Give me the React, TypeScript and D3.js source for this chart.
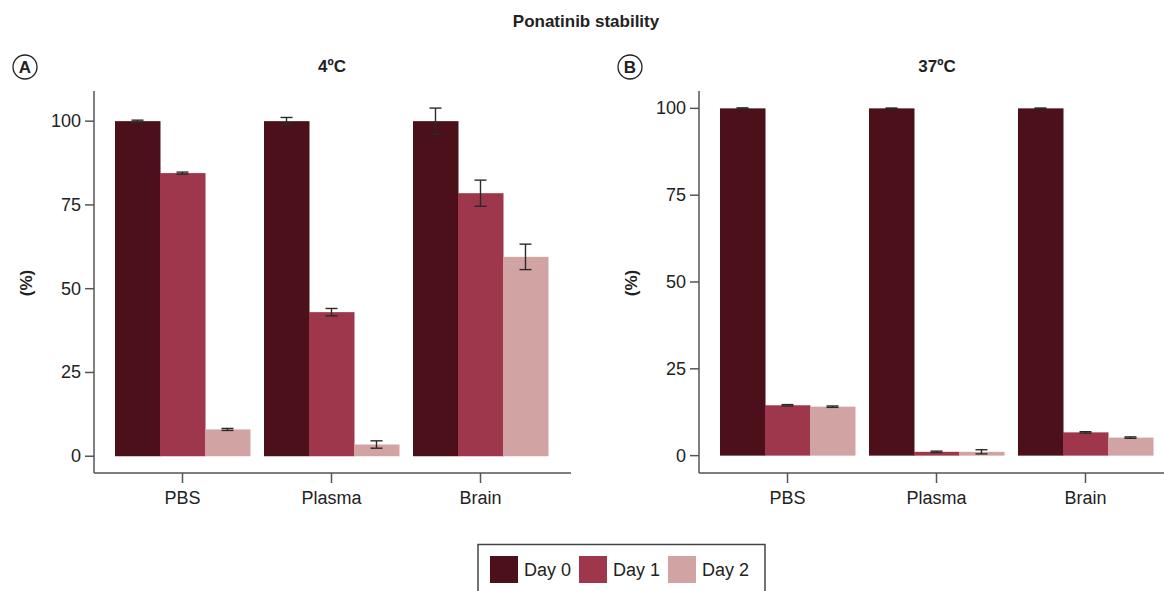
import React from "react";
import * as d3 from "d3";

const categories = ["PBS", "Plasma", "Brain"];
const days = ["Day 0", "Day 1", "Day 2"];
const colors = ["#4b1019", "#9e364c", "#d1a3a3"];

// Panel A (4ºC): values per category, per day
const valuesA = [
  [100, 84.5, 8],
  [100, 43, 3.5],
  [100, 78.5, 59.5],
];
const errorsA = [
  [0.3, 0.3, 0.3],
  [1.1, 1.1, 1.1],
  [3.9, 3.9, 3.8],
];
// Panel B (37ºC)
const valuesB = [
  [100, 14.5, 14.1],
  [100, 1.1, 1.1],
  [100, 6.7, 5.2],
];
const errorsB = [
  [0.15, 0.2, 0.2],
  [0.1, 0.2, 0.6],
  [0.1, 0.2, 0.2],
];
const yTicks = [0, 25, 50, 75, 100];

const FONT = "'Liberation Sans', Arial, Helvetica, sans-serif";
const AXIS = "#555";
const TEXT = "#222";

type PanelProps = {
  x0: number;
  x1: number;
  yMax: number;
  values: number[][];
  errors: number[][];
  title: string;
  letter: string;
  letterX: number;
  titleX: number;
  labelX: number;
};

function Panel({ x0, x1, yMax, values, errors, title, letter, letterX, titleX, labelX }: PanelProps) {
  const top = 91;
  const bottom = 473;
  const y = d3.scaleLinear().domain([-5, yMax]).range([bottom, top]);
  const xb = d3
    .scaleBand<string>()
    .domain(categories)
    .range([x0, x0 + 475])
    .paddingInner(0.094)
    .paddingOuter(0.141);
  const xs = d3.scaleBand<string>().domain(days).range([0, xb.bandwidth()]);
  return (
    <g>
      {/* letter circle */}
      <circle cx={letterX} cy={67} r={12} fill="none" stroke="#222" strokeWidth={1.3} />
      <text x={letterX} y={67} textAnchor="middle" dominantBaseline="central" fontFamily={FONT} fontWeight="bold" fontSize={17} fill={TEXT}>
        {letter}
      </text>
      <text x={titleX} y={72} textAnchor="middle" fontFamily={FONT} fontWeight="bold" fontSize={17} fill={TEXT}>
        {title}
      </text>
      {/* y label */}
      <text
        transform={`translate(${labelX},${283}) rotate(-90)`}
        textAnchor="middle"
        dominantBaseline="central"
        fontFamily={FONT}
        fontWeight="bold"
        fontSize={17}
        fill={TEXT}
      >
        (%)
      </text>
      {/* bars */}
      {categories.map((c, ci) =>
        days.map((d, di) => {
          const v = values[ci][di];
          const bx = (xb(c) as number) + (xs(d) as number);
          return (
            <rect
              key={c + d}
              x={bx}
              y={y(v)}
              width={xs.bandwidth() + 0.5}
              height={y(0) - y(v)}
              fill={colors[di]}
            />
          );
        })
      )}
      {/* error bars */}
      {categories.map((c, ci) =>
        days.map((d, di) => {
          const v = values[ci][di];
          const e = errors[ci][di];
          const cx = (xb(c) as number) + (xs(d) as number) + xs.bandwidth() / 2;
          const hw = 6;
          return (
            <g key={"e" + c + d} stroke="#2a2a2a" strokeWidth={1.4}>
              <line x1={cx} x2={cx} y1={y(v + e)} y2={y(v - e)} />
              <line x1={cx - hw} x2={cx + hw} y1={y(v + e)} y2={y(v + e)} />
              <line x1={cx - hw} x2={cx + hw} y1={y(v - e)} y2={y(v - e)} />
            </g>
          );
        })
      )}
      {/* y axis */}
      <line x1={x0} x2={x0} y1={top} y2={bottom} stroke={AXIS} strokeWidth={1.5} />
      {yTicks.map((t) => (
        <g key={t}>
          <line x1={x0 - 9} x2={x0} y1={y(t)} y2={y(t)} stroke={AXIS} strokeWidth={1.5} />
          <text x={x0 - 13} y={y(t)} textAnchor="end" dominantBaseline="central" fontFamily={FONT} fontSize={18} fill={TEXT}>
            {t}
          </text>
        </g>
      ))}
      {/* x axis */}
      <line x1={x0} x2={x1} y1={bottom} y2={bottom} stroke={AXIS} strokeWidth={1.5} />
      {categories.map((c) => {
        const cx = (xb(c) as number) + xb.bandwidth() / 2;
        return (
          <g key={"x" + c}>
            <line x1={cx} x2={cx} y1={bottom} y2={bottom + 10} stroke={AXIS} strokeWidth={1.5} />
            <text x={cx} y={504} textAnchor="middle" fontFamily={FONT} fontSize={18} fill={TEXT}>
              {c}
            </text>
          </g>
        );
      })}
    </g>
  );
}

export default function App() {
  const legendX = [490, 579, 668];
  return (
    <svg width={1164} height={591} style={{ position: "absolute", left: 0, top: 0, background: "#fff" }}>
      <text x={586} y={27} textAnchor="middle" fontFamily={FONT} fontWeight="bold" fontSize={17} fill={TEXT}>
        Ponatinib stability
      </text>
      <Panel x0={94} x1={571} yMax={109} values={valuesA} errors={errorsA} title="4ºC" letter="A" letterX={25} titleX={332} labelX={26} />
      <Panel x0={699} x1={1175} yMax={105} values={valuesB} errors={errorsB} title="37ºC" letter="B" letterX={630} titleX={937} labelX={631} />
      {/* legend */}
      <rect x={478} y={544.5} width={287} height={50} fill="none" stroke="#444" strokeWidth={1.5} />
      {days.map((d, i) => (
        <g key={d}>
          <rect x={legendX[i]} y={556} width={28} height={27} fill={colors[i]} />
          <text x={legendX[i] + 34} y={570} dominantBaseline="central" fontFamily={FONT} fontSize={18} fill={TEXT}>
            {d}
          </text>
        </g>
      ))}
    </svg>
  );
}
